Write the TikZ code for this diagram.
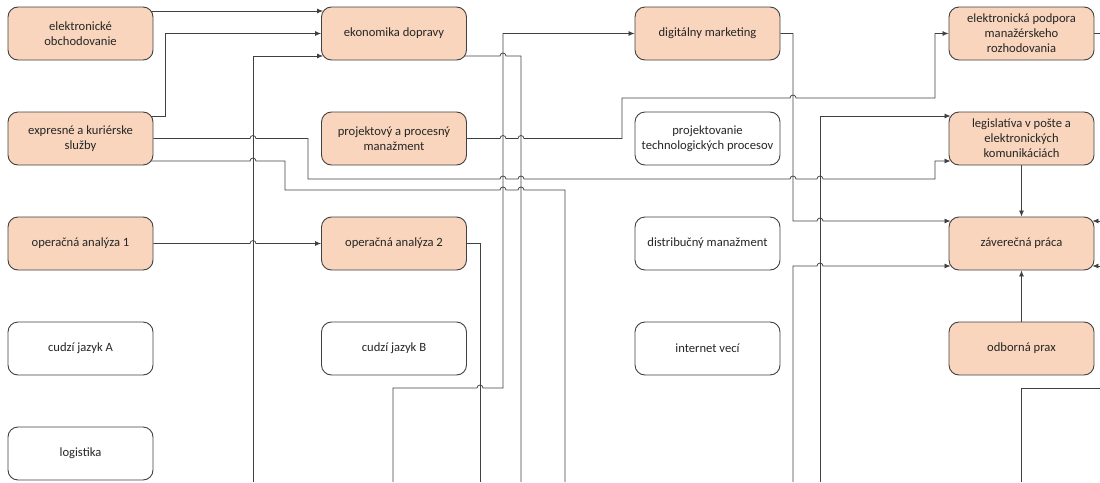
\documentclass[tikz,border=0pt]{standalone}
\usepackage{fontspec}
\setmainfont{Carlito}
\usetikzlibrary{arrows.meta,calc}
\definecolor{peach}{HTML}{F8D5BC}
\definecolor{edgec}{HTML}{404040}
\definecolor{txt}{HTML}{262626}
\pgfdeclarelayer{bg}
\pgfsetlayers{bg,main}
\newcommand\jmp[2]{-- (#1-3,#2) arc[start angle=180,end angle=0,radius=3pt]}
\begin{document}
\begin{tikzpicture}[x=1pt,y=-1pt,
  box/.style={draw=edgec, line width=0.9pt, rounded corners=10pt, minimum width=145pt, minimum height=53pt, inner sep=2pt, align=center, text=txt, font=\fontsize{12.6}{15}\selectfont},
  hot/.style={box, fill=peach},
  cold/.style={box, fill=white},
  conn/.style={draw=edgec, line width=0.75pt},
  arr/.style={conn, -{Latex[length=6pt,width=5pt]}}]
\useasboundingbox (0,0) rectangle (1100,482);
% column 1
\node[hot]  (eo) at (80.5,33.5)  {elektronické\\obchodovanie};
\node[hot]  (ek) at (80.5,138.5) {expresné a kuriérske\\služby};
\node[hot]  (o1) at (80.5,243.5) {operačná analýza 1};
\node[cold] (ca) at (80.5,348.5) {cudzí jazyk A};
\node[cold] (lo) at (80.5,453.5) {logistika};
% column 2
\node[hot]  (ed) at (394,33.5)  {ekonomika dopravy};
\node[hot]  (pp) at (394,138.5) {projektový a procesný\\manažment};
\node[hot]  (o2) at (394,243.5) {operačná analýza 2};
\node[cold] (cb) at (394,348.5) {cudzí jazyk B};
% column 3
\node[hot]  (dm) at (707.5,33.5)  {digitálny marketing};
\node[cold] (pt) at (707.5,138.5) {projektovanie\\technologických procesov};
\node[cold] (dz) at (707.5,243.5) {distribučný manažment};
\node[cold] (iv) at (707.5,348.5) {internet vecí};
% column 4
\node[hot]  (ep) at (1021.5,33.5)  {elektronická podpora\\manažérskeho\\rozhodovania};
\node[hot]  (lg) at (1021.5,138.5) {legislatíva v pošte a\\elektronických\\komunikáciách};
\node[hot]  (zp) at (1021.5,243.5) {záverečná práca};
\node[hot]  (op) at (1021.5,348.5) {odborná prax};
% free ends
\coordinate (b253) at (253,482);
\coordinate (b565) at (565,482);
\coordinate (b521) at (521,482);
\coordinate (b393) at (393,482);
\coordinate (b480) at (480,482);
\coordinate (b820) at (820,482);
\coordinate (b793) at (793,482);
\coordinate (b1021) at (1021.5,482);
\coordinate (rEP) at (1100,33.5);
\coordinate (r1) at (1100,221);
\coordinate (r2) at (1100,266);
\coordinate (r3) at (1100,388);
\begin{pgfonlayer}{bg}
\draw[arr] ($(eo.east)+(-3,-22.5)$) -- ($(ed.west)+(2,-22.5)$);
\draw[arr] ($(ek.east)+(-3,-22.5)$) -- (165,116) -- (165,33.5) -- (ed.west);
\draw[arr] (b253) -- (253,56) -- ($(ed.west)+(2,22.5)$);
\draw[arr] (ek.east) \jmp{253}{138.5} -- (308,138.5) -- (308,179) \jmp{503}{179}\jmp{521}{179}\jmp{793}{179}\jmp{820}{179} -- (935,179) -- (935,161) -- ($(lg.west)+(2,22.5)$);
\draw[conn] ($(ek.east)+(-3,22.5)$) \jmp{253}{161} -- (285,161) -- (285,190) \jmp{503}{190}\jmp{521}{190} -- (565,190) -- (b565);
\draw[arr] (o1.east) \jmp{253}{243.5} -- (o2.west);
\draw[conn] ($(ed.east)+(-3,22.5)$) \jmp{503}{56} -- (521,56) -- (b521);
\draw[arr] (b393) -- (393,388) \jmp{480}{388} -- (503,388) -- (503,33.5) -- (dm.west);
\draw[conn] (o2.east) -- (480,243.5) -- (b480);
\draw[arr] (pp.east) \jmp{503}{138.5}\jmp{521}{138.5} -- (622,138.5) -- (622,98) \jmp{793}{98} -- (935,98) -- (935,33.5) -- (ep.west);
\draw[arr] (dm.east) -- (793,33.5) -- (793,221) \jmp{820}{221} -- ($(zp.west)+(2,-22.5)$);
\draw[arr] (b820) -- (820,116) -- ($(lg.west)+(2,-22.5)$);
\draw[arr] (b793) -- (793,266) \jmp{820}{266} -- ($(zp.west)+(2,22.5)$);
\draw[arr] (lg.south) -- (zp.north);
\draw[arr] (op.north) -- (zp.south);
\draw[conn] (ep.east) -- (rEP);
\draw[arr] (r1) -- ($(zp.east)+(-2,-22.5)$);
\draw[arr] (r2) -- ($(zp.east)+(-2,22.5)$);
\draw[conn] (b1021) -- (1021.5,388) -- (r3);
\end{pgfonlayer}
\end{tikzpicture}
\end{document}
